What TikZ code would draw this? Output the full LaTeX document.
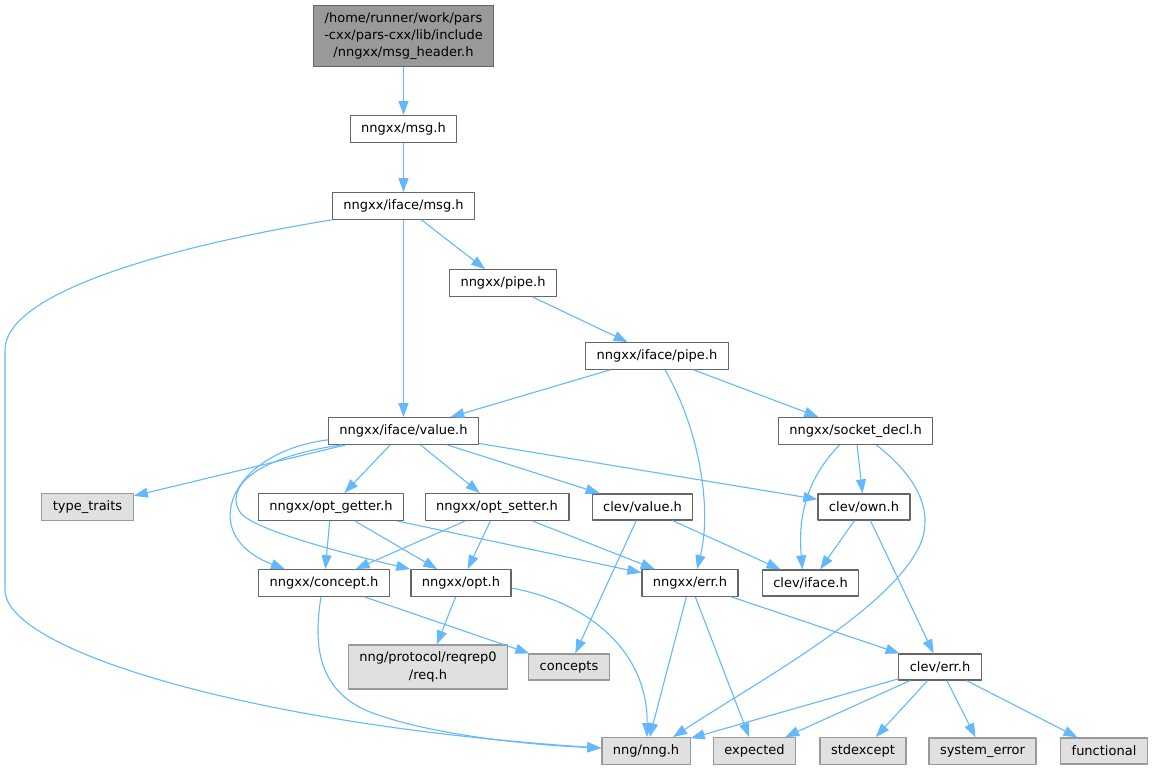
\documentclass[tikz,border=0pt]{standalone}
\usepackage{fontspec}
\setmainfont{DejaVu Sans}
\usetikzlibrary{arrows.meta,calc}
\definecolor{edgeblue}{HTML}{63B8FF}
\definecolor{boxline}{HTML}{666666}
\definecolor{extline}{HTML}{999999}
\definecolor{extfill}{HTML}{E0E0E0}
\definecolor{mainfill}{HTML}{999999}

\begin{document}
\begin{tikzpicture}[x=1pt,y=-1pt,line join=round,
  box/.style={draw=boxline,fill=white,line width=1.2pt,inner xsep=11pt,inner ysep=7pt,minimum height=26pt,align=center,font=\fontsize{13}{17.3}\selectfont},
  extbox/.style={box,draw=extline,fill=extfill},
  mainbox/.style={box,fill=mainfill},
  edge/.style={draw=edgeblue,line width=1.1pt,-{Triangle[length=14pt,width=10pt]}}]
\useasboundingbox (0,0) rectangle (1153,770);
% headers
\node[mainbox] (msgh) at (403.5,36) {/home/runner/work/pars\\-cxx/pars-cxx/lib/include\\/nngxx/msg\_header.h};
\node[box] (msg) at (403.5,129) {nngxx/msg.h};
\node[box] (imsg) at (403.5,206) {nngxx/iface/msg.h};
\node[box] (pipe) at (503,283) {nngxx/pipe.h};
\node[box] (ipipe) at (657,356) {nngxx/iface/pipe.h};
\node[box] (val) at (403.5,431) {nngxx/iface/value.h};
\node[box] (sock) at (855.5,431) {nngxx/socket\_decl.h};
\node[extbox] (tt) at (87.5,507) {type\_traits};
\node[box] (og) at (331,507) {nngxx/opt\_getter.h};
\node[box] (os) at (497,507) {nngxx/opt\_setter.h};
\node[box] (cval) at (642.5,507) {clev/value.h};
\node[box] (own) at (864,507) {clev/own.h};
\node[box] (conc) at (324,583) {nngxx/concept.h};
\node[box] (opt) at (461,583) {nngxx/opt.h};
\node[box] (err) at (690,583) {nngxx/err.h};
\node[box] (iface) at (810.5,583) {clev/iface.h};
\node[extbox] (req) at (428,667) {nng/protocol/reqrep0\\/req.h};
\node[extbox] (concepts) at (569,667) {concepts};
\node[box] (cerr) at (940,667) {clev/err.h};
\node[extbox] (nng) at (646,751) {nng/nng.h};
\node[extbox] (exp) at (754.5,751) {expected};
\node[extbox] (stdex) at (863,751) {stdexcept};
\node[extbox] (syserr) at (982.5,751) {system\_error};
\node[extbox] (func) at (1104,751) {functional};
% straight includes
\foreach \a/\b in {msgh/msg,msg/imsg,imsg/val,imsg/pipe,pipe/ipipe,ipipe/val,ipipe/sock,val/tt,val/og,val/os,val/cval,val/own,sock/own,og/conc,og/opt,og/err,os/conc,os/opt,os/err,cval/concepts,cval/iface,own/iface,own/cerr,conc/concepts,opt/req,err/nng,err/exp,err/cerr,cerr/nng,cerr/exp,cerr/stdex,cerr/syserr,cerr/func}
  {\draw[edge] (\a) -- (\b);}
% curved includes
\draw[edge] (imsg.south west) .. controls (183,244) and (5,290) .. (5,350) -- (5,590) .. controls (5,650) and (250,725) .. ([yshift=3pt]nng.west);
\draw[edge] ([xshift=8pt]ipipe.south) .. controls (700,430) and (712,510) .. ([xshift=7pt]err.north);
\draw[edge] ([yshift=5pt]val.south west) .. controls (230,452) and (195,535) .. ([xshift=-39pt]conc.north);
\draw[edge] ([xshift=14pt]val.south west) .. controls (250,458) and (225,490) .. (240,512) .. controls (250,528) and (330,550) .. (opt.north west);
\draw[edge] ([xshift=-16pt]sock.south) .. controls (805,480) and (798,520) .. ([xshift=-8pt]iface.north);
\draw[edge] ([xshift=21pt]sock.south) .. controls (915,475) and (935,510) .. (920,545) .. controls (890,610) and (760,680) .. ([xshift=27pt]nng.north);
\draw[edge] ([xshift=-3pt]conc.south) .. controls (314,640) and (315,690) .. (370,712) .. controls (430,735) and (530,745) .. ([yshift=3pt]nng.west);
\draw[edge] ([yshift=-5pt]opt.east) .. controls (600,605) and (648,660) .. ([xshift=1pt]nng.north);
\end{tikzpicture}
\end{document}
